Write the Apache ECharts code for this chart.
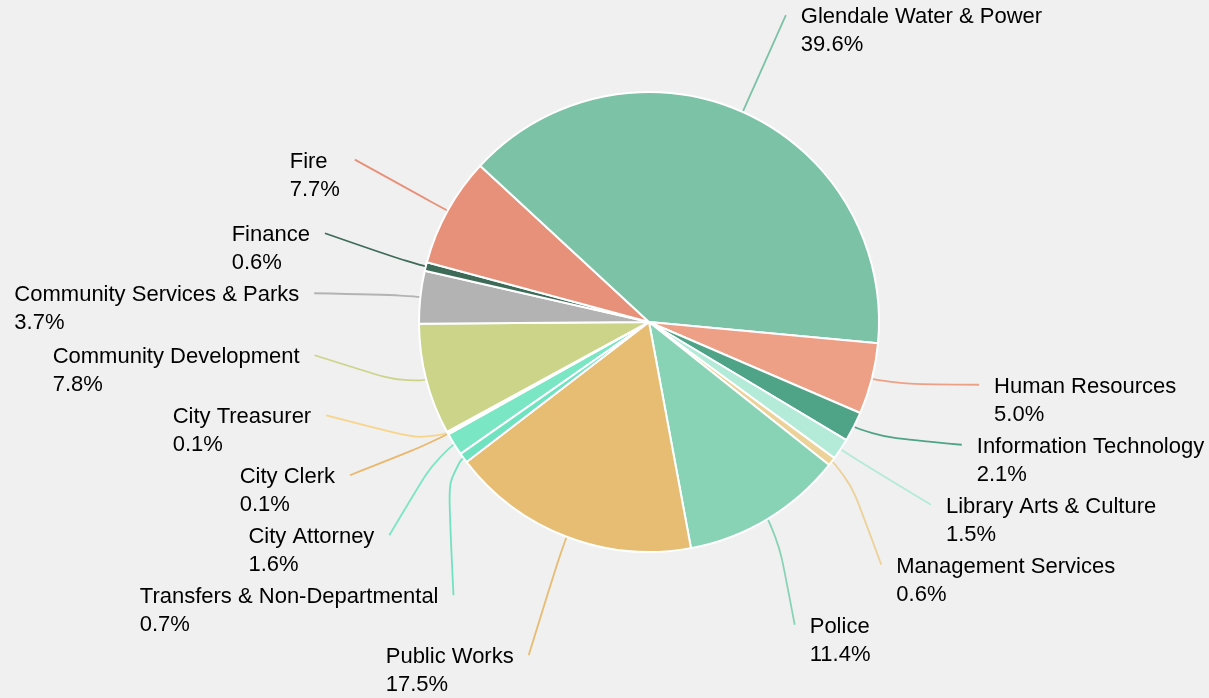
<!DOCTYPE html>
<html><head><meta charset="utf-8">
<script src="https://cdn.jsdelivr.net/npm/echarts@6/dist/echarts.min.js"></script>
<style>html,body{margin:0;padding:0;background:#f0f0f0}#c{width:1209px;height:698px}</style>
</head><body><div id="c"></div>
<script>
const departments = [
  'City Attorney', 'City Clerk', 'City Treasurer', 'Community Development',
  'Community Services & Parks', 'Finance', 'Fire', 'Glendale Water & Power',
  'Human Resources', 'Information Technology', 'Library Arts & Culture',
  'Management Services', 'Police', 'Public Works', 'Transfers & Non-Departmental'
];
const shares = [1.6, 0.1, 0.1, 7.8, 3.7, 0.6, 7.7, 39.6, 5.0, 2.1, 1.5, 0.6, 11.4, 17.5, 0.7];
const colors = [
  '#7be6c4', '#e9b86c', '#f8d48a', '#cbd489', '#b3b3b3', '#3e6b58', '#e8917a', '#7cc2a6',
  '#eea086', '#4fa387', '#b3ead8', '#ecd199', '#88d3b6', '#e7bd74', '#70e2bf'
];

const START_ANGLE = 215.0;
const CENTER = [0.5368, 0.4613];
const RADIUS = 230;

const chart = echarts.init(document.getElementById('c'));
const FONT = 'Arial, "Liberation Sans", sans-serif';

// Label placement: labels sit on a ring outside the pie, stacked per side without overlap.
function layoutLabels(W, H) {
  const cx = W * CENTER[0], cy = H * CENTER[1];
  const R1 = RADIUS + 20, RL = 336, GAP = 60, TEXT_GAP = 15;
  const total = shares.reduce((a, b) => a + b, 0);
  let cum = 0;
  const items = shares.map((v, i) => {
    const mid = (START_ANGLE - (cum + v / 2) / total * 360) * Math.PI / 180;
    cum += v;
    const c = Math.cos(mid), s = Math.sin(mid);
    return {
      i, side: c >= 0 ? 1 : -1,
      p0: [cx + RADIUS * c, cy - RADIUS * s],
      p1: [cx + R1 * c, cy - R1 * s],
      nx: RL * c, ny: cy - RL * s
    };
  });
  [1, -1].forEach(side => {
    const list = items.filter(d => d.side === side).sort((a, b) => a.ny - b.ny);
    const clusters = [];
    list.forEach(d => {
      clusters.push({ items: [d], y0: d.ny });
      while (clusters.length > 1) {
        const b = clusters[clusters.length - 1], a = clusters[clusters.length - 2];
        if (a.y0 + a.items.length * GAP > b.y0) {
          a.items = a.items.concat(b.items);
          a.y0 = a.items.reduce((acc, e, k) => acc + e.ny - k * GAP, 0) / a.items.length;
          clusters.pop();
        } else break;
      }
    });
    clusters.forEach(cl => cl.items.forEach((e, k) => { e.y = cl.y0 + k * GAP; }));
  });
  items.forEach(d => {
    const dy = d.y - cy;
    const dx = Math.abs(dy) > 0.95 * RL ? Math.abs(d.nx) : Math.sqrt(Math.max(RL * RL - dy * dy, 0));
    d.end = [cx + d.side * dx, d.y];
    d.tx = d.end[0] + d.side * TEXT_GAP;
    d.ty = d.y - 12;
  });
  return items;
}
const labelPos = layoutLabels(chart.getWidth(), chart.getHeight());

chart.setOption({
  backgroundColor: '#f0f0f0',
  animation: false,
  series: [{
    type: 'pie',
    center: [(CENTER[0] * 100) + '%', (CENTER[1] * 100) + '%'],
    radius: RADIUS,
    startAngle: START_ANGLE,
    clockwise: true,
    percentPrecision: 1,
    avoidLabelOverlap: false,
    itemStyle: { borderColor: '#ffffff', borderWidth: 2 },
    label: {
      show: true,
      position: 'outside',
      formatter: p => '{n|' + p.name + '}\n{n|' + p.percent.toFixed(1) + '%}',
      color: '#000',
      fontFamily: FONT,
      fontSize: 22,
      lineHeight: 28,
      rich: { n: { fontFamily: FONT, fontSize: 22, lineHeight: 28, align: 'left', color: '#000' } }
    },
    labelLine: { show: true, length: 15, length2: 10, smooth: 0.8, lineStyle: { width: 1.8 } },
    labelLayout: p => {
      const d = labelPos[p.dataIndex];
      return {
        x: d.tx, y: d.ty,
        align: d.side < 0 ? 'right' : 'left',
        verticalAlign: 'top',
        labelLinePoints: [d.p0, d.p1, d.end]
      };
    },
    emphasis: { disabled: true },
    data: departments.map((n, i) => ({ name: n, value: shares[i], itemStyle: { color: colors[i] } }))
  }]
});
</script>
</body></html>
